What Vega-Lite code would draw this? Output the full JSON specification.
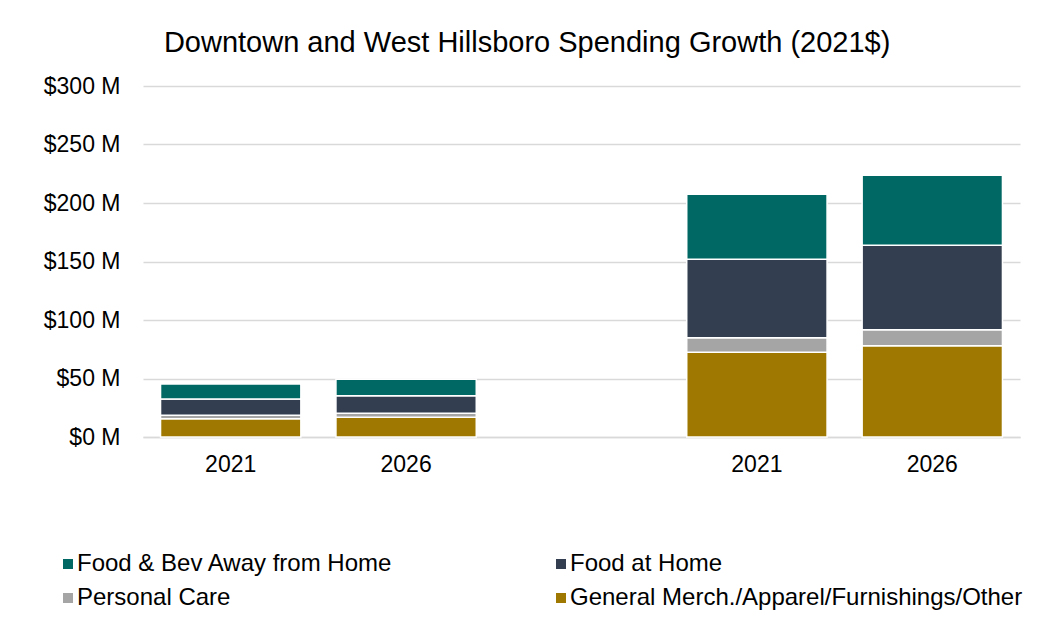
{
  "$schema": "https://vega.github.io/schema/vega-lite/v6.json",
  "width": 877,
  "height": 351,
  "autosize": {"type": "none"},
  "padding": {"left": 143, "top": 86, "right": 17, "bottom": 189},
  "background": "white",
  "title": {
    "text": "Downtown and West Hillsboro Spending Growth (2021$)",
    "font": "Liberation Sans",
    "fontSize": 29,
    "fontWeight": "normal",
    "color": "#000000",
    "anchor": "middle",
    "frame": "bounds",
    "offset": 17,
    "dx": -6
  },
  "data": {
    "values": [
      {"slot": "D2021", "category": "General Merch./Apparel/Furnishings/Other", "ord": 1, "value": 15.5},
      {"slot": "D2021", "category": "Personal Care", "ord": 2, "value": 3.0},
      {"slot": "D2021", "category": "Food at Home", "ord": 3, "value": 14.0},
      {"slot": "D2021", "category": "Food & Bev Away from Home", "ord": 4, "value": 12.8},
      {"slot": "D2026", "category": "General Merch./Apparel/Furnishings/Other", "ord": 1, "value": 16.8},
      {"slot": "D2026", "category": "Personal Care", "ord": 2, "value": 3.5},
      {"slot": "D2026", "category": "Food at Home", "ord": 3, "value": 15.0},
      {"slot": "D2026", "category": "Food & Bev Away from Home", "ord": 4, "value": 14.0},
      {"slot": "W2021", "category": "General Merch./Apparel/Furnishings/Other", "ord": 1, "value": 72.4},
      {"slot": "W2021", "category": "Personal Care", "ord": 2, "value": 12.5},
      {"slot": "W2021", "category": "Food at Home", "ord": 3, "value": 67.0},
      {"slot": "W2021", "category": "Food & Bev Away from Home", "ord": 4, "value": 55.5},
      {"slot": "W2026", "category": "General Merch./Apparel/Furnishings/Other", "ord": 1, "value": 78.0},
      {"slot": "W2026", "category": "Personal Care", "ord": 2, "value": 13.7},
      {"slot": "W2026", "category": "Food at Home", "ord": 3, "value": 72.1},
      {"slot": "W2026", "category": "Food & Bev Away from Home", "ord": 4, "value": 59.9}
    ]
  },
  "mark": {"type": "bar", "stroke": "white", "strokeWidth": 1.5},
  "encoding": {
    "x": {
      "field": "slot",
      "type": "nominal",
      "title": null,
      "scale": {"domain": ["D2021", "D2026", "gap", "W2021", "W2026"], "paddingInner": 0.2, "paddingOuter": 0.1},
      "axis": {
        "labelExpr": "datum.value == 'gap' ? '' : slice(datum.value, 1)",
        "labelAngle": 0,
        "ticks": false,
        "domain": true,
        "domainColor": "#d9d9d9",
        "domainWidth": 1.5,
        "labelPadding": 16,
        "labelFontSize": 23,
        "labelFont": "Liberation Sans",
        "labelColor": "#000000"
      }
    },
    "y": {
      "field": "value",
      "type": "quantitative",
      "aggregate": "sum",
      "stack": "zero",
      "title": null,
      "scale": {"domain": [0, 300], "nice": false},
      "axis": {
        "values": [0, 50, 100, 150, 200, 250, 300],
        "labelExpr": "'$' + datum.value + ' M'",
        "ticks": false,
        "domain": false,
        "grid": true,
        "gridColor": "#d9d9d9",
        "gridWidth": 1.5,
        "labelPadding": 23,
        "labelFontSize": 23,
        "labelFont": "Liberation Sans",
        "labelColor": "#000000"
      }
    },
    "color": {
      "field": "category",
      "type": "nominal",
      "title": null,
      "scale": {
        "domain": ["Food & Bev Away from Home", "Food at Home", "Personal Care", "General Merch./Apparel/Furnishings/Other"],
        "range": ["#006864", "#333F50", "#A5A5A5", "#9E7800"]
      },
      "legend": {
        "orient": "none",
        "legendX": -87,
        "legendY": 466,
        "padding": 0,
        "columns": 2,
        "direction": "horizontal",
        "symbolType": "square",
        "symbolSize": 100,
        "symbolStrokeWidth": 0,
        "labelFontSize": 24,
        "labelFont": "Liberation Sans",
        "labelColor": "#000000",
        "labelLimit": 600,
        "labelOffset": -3,
        "columnPadding": 156,
        "rowPadding": 10
      }
    },
    "order": {"field": "ord", "type": "quantitative"}
  },
  "config": {
    "view": {"stroke": null},
    "font": "Liberation Sans"
  }
}
